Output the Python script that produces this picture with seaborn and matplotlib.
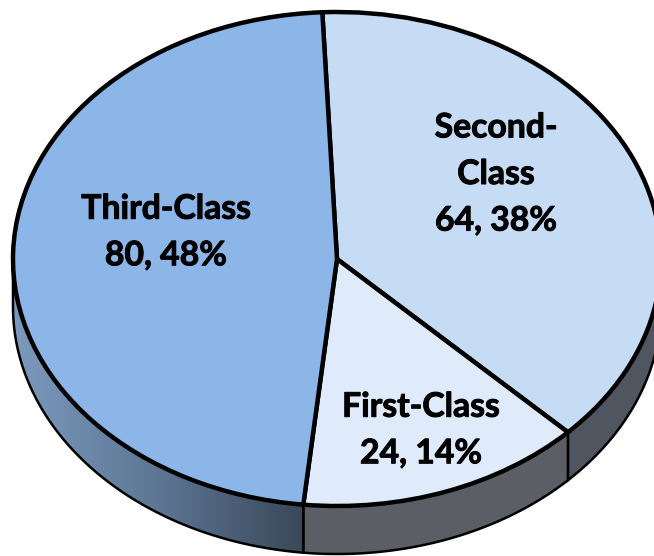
import numpy as np
import matplotlib
matplotlib.use("Agg")
import matplotlib.pyplot as plt
import matplotlib.patheffects as pe
from matplotlib.colors import LinearSegmentedColormap
from matplotlib.patches import Polygon
import seaborn as sns

categories = ["Second-\nClass", "First-Class", "Third-Class"]
values = [64, 24, 80]
percents = [38, 14, 48]
colors = ["#c6dbf4", "#dfeafa", "#8cb5e8"]
wall_solid = {0: "#4f565f", 1: "#5c5e66"}
wall_gradient = ["#7c9abd", "#5d7694", "#3a4859"]

W, H = 654, 556
CX, CY, RX, RY, DEPTH = 337, 259, 324, 247, 48
START = -2.6  # degrees clockwise from the top
label_px = [(496, 174), (421, 430), (166, 232)]

sns.set_theme(style="white")
plt.rcParams["font.family"] = ["Lato", "DejaVu Sans"]

fig = plt.figure(figsize=(W / 100, H / 100), dpi=100)
ax = fig.add_axes([0, 0, 1, 1])
wedges, _ = ax.pie(values, colors=colors, startangle=90 - START, counterclock=False,
                   radius=1, center=(0, 0),
                   wedgeprops=dict(edgecolor="black", linewidth=3.2, zorder=5))
ax.set_aspect("auto")
xlim = (-CX / RX, (W - CX) / RX)
ylim = (-(H - CY) / RY, CY / RY)
d = DEPTH / RY

edges = START + np.cumsum([0] + values) / sum(values) * 360


def wall_poly(a, b):
    t = np.radians(np.linspace(a, b, 200))
    x, y = np.sin(t), np.cos(t)
    return np.column_stack([np.r_[x, x[::-1]], np.r_[y, (y - d)[::-1]]])


for i in range(3):
    a, b = max(edges[i], 90), min(edges[i + 1], 270)
    poly = Polygon(wall_poly(a, b), closed=True, facecolor=wall_solid.get(i, "none"),
                   edgecolor="black", linewidth=1.8, zorder=2)
    ax.add_patch(poly)
    if i == 2:
        cmap = LinearSegmentedColormap.from_list("wall", wall_gradient)
        im = ax.imshow(np.linspace(0, 1, 256)[None, :], cmap=cmap, aspect="auto",
                       extent=(-1, np.sin(np.radians(a)), -1 - d, 1), zorder=1.5)
        im.set_clip_path(poly)

ax.set_xlim(*xlim)
ax.set_ylim(*ylim)
ax.axis("off")

for name, v, p, (px, py) in zip(categories, values, percents, label_px):
    ax.text((px - CX) / RX, (CY - py) / RY, f"{name}\n{v}, {p}%", ha="center", va="center",
            fontsize=24.3, fontweight="bold", color="black", linespacing=1.56, zorder=6,
            path_effects=[pe.withStroke(linewidth=0.7, foreground="black")])

fig.savefig("out.png", dpi=100, facecolor="white")
